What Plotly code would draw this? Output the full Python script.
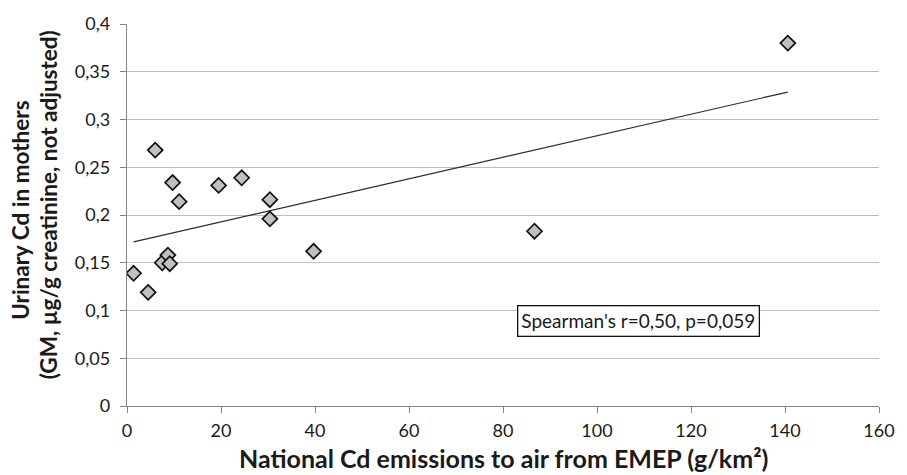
import numpy as np
import plotly.graph_objects as go

# Data
emissions = [1.4, 4.5, 6.0, 7.5, 8.7, 9.1, 9.7, 11.1, 19.5, 24.4, 30.4, 30.4, 39.7, 86.7, 140.6]
urinary_cd = [0.139, 0.119, 0.268, 0.150, 0.158, 0.149, 0.234, 0.214, 0.231, 0.239,
              0.216, 0.196, 0.162, 0.183, 0.380]

x_ticks = [0, 20, 40, 60, 80, 100, 120, 140, 160]
y_ticks = [0, 0.05, 0.1, 0.15, 0.2, 0.25, 0.3, 0.35, 0.4]
y_tick_labels = ["0", "0,05", "0,1", "0,15", "0,2", "0,25", "0,3", "0,35", "0,4"]

x_title = "National Cd emissions to air from EMEP (g/km²)"
y_title_1 = "Urinary Cd in mothers"
y_title_2 = "(GM, µg/g creatinine, not adjusted)"
stat_text = "Spearman's r=0,50, p=0,059"

# Linear trendline (least squares)
xa = np.array(emissions)
ya = np.array(urinary_cd)
slope, intercept = np.polyfit(xa, ya, 1)
tx = np.array([xa.min(), xa.max()])
ty = slope * tx + intercept

FONT = "Lato, 'Open Sans', sans-serif"
TXT = "#1a1a1a"

fig = go.Figure()
fig.add_trace(go.Scatter(
    x=tx, y=ty, mode="lines",
    line=dict(color="#2a2a2a", width=1.2),
    showlegend=False, hoverinfo="skip"))
fig.add_trace(go.Scatter(
    x=emissions, y=urinary_cd, mode="markers",
    marker=dict(symbol="diamond", size=11.5, color="#c0c0c0",
                line=dict(color="#111111", width=1.7)),
    showlegend=False))

W, H = 907, 475
ml, mr, mt, mb = 127, 15, 24, 69
pw = W - ml - mr
ph = H - mt - mb

fig.update_layout(
    width=W, height=H,
    margin=dict(l=ml, r=mr, t=mt, b=mb, pad=0),
    paper_bgcolor="white", plot_bgcolor="white",
    font=dict(family=FONT, size=18, color=TXT),
    xaxis=dict(range=[0, 160], tickvals=x_ticks, showgrid=False,
               showline=True, linecolor="#858585", linewidth=1.3,
               ticks="outside", ticklen=6, tickcolor="#858585", tickwidth=1.3,
               zeroline=False, tickfont=dict(size=18), ticklabelstandoff=2,
               ticklabeloverflow="allow"),
    yaxis=dict(range=[0, 0.4], tickvals=y_ticks, ticktext=y_tick_labels,
               showgrid=True, gridcolor="#bdbdbd", gridwidth=1.3,
               showline=True, linecolor="#858585", linewidth=1.3,
               ticks="outside", ticklen=6, tickcolor="#858585", tickwidth=1.3,
               zeroline=False, tickfont=dict(size=18), ticklabelstandoff=6,
               ticklabeloverflow="allow"),
    annotations=[
        dict(text=f"<b>{x_title}</b>", xref="paper", yref="paper",
             x=0.5, y=-(458 - (mt + ph)) / ph, xanchor="center", yanchor="middle",
             showarrow=False, font=dict(size=25, family=FONT, color=TXT)),
        dict(text=f"<b>{y_title_1}</b>", xref="paper", yref="paper",
             x=(18 - ml) / pw, y=(H - mb - 210) / ph, xanchor="center", yanchor="middle",
             textangle=-90, showarrow=False,
             font=dict(size=22.5, family=FONT, color=TXT)),
        dict(text=f"<b>{y_title_2}</b>", xref="paper", yref="paper",
             x=(47 - ml) / pw, y=(H - mb - 205) / ph, xanchor="center", yanchor="middle",
             textangle=-90, showarrow=False,
             font=dict(size=22.5, family=FONT, color=TXT)),
        dict(text=stat_text, xref="x", yref="y", x=108.9, y=0.0893,
             xanchor="center", yanchor="middle", showarrow=False,
             bgcolor="white", bordercolor="#111111", borderwidth=1.3, borderpad=3,
             font=dict(size=19, family=FONT, color=TXT)),
    ],
)

fig.write_html("out.html")
